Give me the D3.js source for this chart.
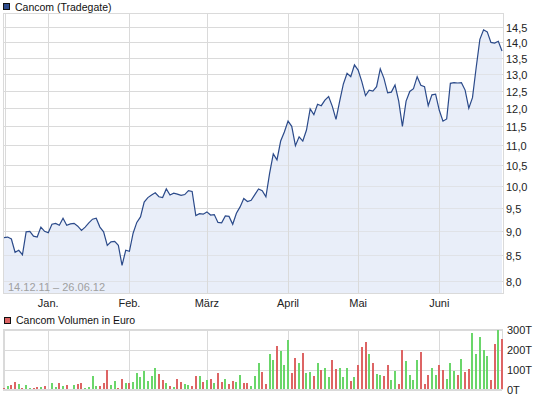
<!DOCTYPE html>
<html>
<head>
<meta charset="utf-8">
<script src="https://cdn.jsdelivr.net/npm/d3@7"></script>
<style>
  body { margin: 0; background: #fff; }
  svg { display: block; font-family: "Liberation Sans", Arial, sans-serif; }
</style>
</head>
<body>
<div id="chart"></div>
<script>
// Cancom (Tradegate) 14.12.11 - 26.06.12, Kurs + Volumen

// Schlusskurse pro Handelstag (Index 0 = 14.12.11)
const prices = [
  8.86, 8.87, 8.83, 8.56, 8.60, 8.51, 8.98, 8.99, 8.89, 8.87,
  9.08, 8.99, 8.96, 9.14, 9.16, 9.12, 9.27, 9.12, 9.15, 9.16,
  9.10, 9.01, 9.08, 9.17, 9.25, 9.27, 9.08, 8.98, 8.70, 8.77,
  8.78, 8.70, 8.30, 8.60, 8.58, 8.95, 9.18, 9.30, 9.63, 9.73,
  9.79, 9.84, 9.75, 9.73, 9.93, 9.79, 9.83, 9.81, 9.78, 9.80,
  9.89, 9.87, 9.33, 9.37, 9.36, 9.41, 9.34, 9.35, 9.18, 9.17,
  9.32, 9.31, 9.14, 9.38, 9.52, 9.71, 9.64, 9.67, 9.80, 9.93,
  9.89, 9.75, 10.30, 10.78, 10.63, 11.11, 11.35, 11.64, 11.50, 10.99,
  11.22, 11.11, 11.40, 11.98, 11.82, 12.11, 12.07, 12.23, 12.33, 12.05,
  11.69, 12.20, 12.70, 13.02, 12.92, 13.28, 13.12, 12.77, 12.36, 12.52,
  12.49, 12.62, 13.16, 12.87, 12.44, 12.46, 12.67, 12.20, 11.50, 12.20,
  12.48, 12.56, 12.92, 12.66, 12.62, 12.07, 12.38, 12.40, 11.94, 11.64,
  11.70, 12.72, 12.74, 12.73, 12.74, 12.52, 12.00, 12.30, 13.20, 14.10,
  14.42, 14.35, 14.00, 13.98, 14.04, 13.72
];

// Volumen in Tausend Euro
const volumes = [
  7, 17, 22, 38, 27, 7, 22, 7, 7, 12,
  12, 17, 0, 32, 12, 32, 17, 22, 0, 22,
  27, 32, 7, 12, 67, 17, 17, 32, 97, 22,
  42, 7, 52, 32, 32, 37, 82, 62, 92, 42,
  67, 107, 77, 47, 32, 17, 12, 52, 37, 27,
  22, 17, 67, 67, 37, 47, 52, 32, 82, 37,
  52, 27, 42, 37, 72, 32, 32, 17, 67, 132,
  87, 27, 177, 150, 217, 193, 122, 247, 83, 160,
  133, 183, 83, 88, 67, 133, 97, 108, 63, 147,
  102, 110, 63, 110, 43, 63, 122, 213, 237, 177,
  133, 77, 72, 67, 122, 47, 92, 30, 197, 142,
  72, 47, 147, 187, 27, 72, 110, 72, 122, 100,
  52, 133, 92, 72, 155, 88, 105, 283, 177, 263,
  200, 167, 50, 230, 297, 255
];

// g = Plus-Tag, r = Minus-Tag
const volDir = (
  "rgrrgrggrr" + "grgggrgrgg" + "rrggggrrrg" + "grrgrggggg" +
  "ggrrgrgrrg" + "grrgrgrgrr" + "grrggrrggg" + "rrggrgggrr" +
  "grggrgrggr" + "rgggrgrrrg" + "rggrrggrrg" + "gggrrrggrr" +
  "gggrgrrggg" + "ggrrgr"
).split("");

const monthLabels = ["Jan.", "Feb.", "März", "April", "Mai", "Juni"];
const monthStarts = [12, 34, 55, 77, 96, 118];

const priceTicks = [8.0, 8.5, 9.0, 9.5, 10.0, 10.5, 11.0, 11.5, 12.0, 12.5, 13.0, 13.5, 14.0, 14.5];
const volTicks = [0, 100, 200, 300];

const W = 545, H = 398;
const svg = d3.select("#chart").append("svg").attr("width", W).attr("height", H);

const gridCol = "#dadada";
const lineCol = "#2b4a8a";
const fillCol = "#e9eef9";
const upCol = "#6ad66a";
const downCol = "#dd6464";
const fmt = d3.format(".1f");

// Skalen
const plotL = 3, plotR = 503, plotT = 13, plotB = 293;
const x = d3.scaleLinear().domain([0, prices.length - 1]).range([4, 502]);
const y = d3.scaleLog().domain([7.78, 15]).range([plotB, plotT]);
const vy = d3.scaleLinear().domain([0, 300]).range([389.5, 329.5]);
const crisp = v => Math.round(v) + 0.5;

// ---- Kurs-Panel ----
const main = svg.append("g");

main.append("rect")
  .attr("x", plotL + 0.5).attr("y", plotT + 0.5)
  .attr("width", plotR - plotL).attr("height", plotB - plotT)
  .attr("fill", "#fff").attr("stroke", gridCol);

main.append("line")
  .attr("x1", 5.5).attr("x2", 5.5).attr("y1", plotT).attr("y2", plotB)
  .attr("stroke", gridCol);

main.selectAll("line.hgrid").data(priceTicks).join("line")
  .attr("class", "hgrid")
  .attr("x1", plotL).attr("x2", plotR)
  .attr("y1", d => crisp(y(d))).attr("y2", d => crisp(y(d)))
  .attr("stroke", gridCol);

const area = d3.area()
  .x((d, i) => x(i))
  .y0(plotB)
  .y1(d => y(d));

main.append("path")
  .datum(prices)
  .attr("d", area)
  .attr("fill", fillCol);

main.selectAll("line.vgrid").data(monthStarts).join("line")
  .attr("class", "vgrid")
  .attr("x1", d => crisp(x(d))).attr("x2", d => crisp(x(d)))
  .attr("y1", plotT).attr("y2", plotB)
  .attr("stroke", gridCol);

main.selectAll("line.hgrid2").data(priceTicks).join("line")
  .attr("class", "hgrid2")
  .attr("x1", plotL).attr("x2", plotR)
  .attr("y1", d => crisp(y(d))).attr("y2", d => crisp(y(d)))
  .attr("stroke", gridCol).attr("stroke-opacity", 0.6);

main.append("path")
  .datum(prices)
  .attr("d", d3.line().x((d, i) => x(i)).y(d => y(d)))
  .attr("fill", "none")
  .attr("stroke", lineCol)
  .attr("stroke-width", 1.2);

// Y-Achse rechts
main.selectAll("text.ytick").data(priceTicks).join("text")
  .attr("class", "ytick")
  .attr("x", 506).attr("y", d => y(d) + 5)
  .attr("font-size", 11).attr("fill", "#222")
  .text(d => fmt(d).replace(".", ","));

// Monate
main.selectAll("text.month").data(monthStarts).join("text")
  .attr("class", "month")
  .attr("x", d => x(d)).attr("y", 306.5)
  .attr("text-anchor", "middle")
  .attr("font-size", 11).attr("fill", "#222")
  .text((d, i) => monthLabels[i]);

main.append("text")
  .attr("x", 8).attr("y", 291)
  .attr("font-size", 11).attr("fill", "#a0a0a0")
  .text("14.12.11 \u2013 26.06.12");

// Legende
main.append("rect")
  .attr("x", 3.5).attr("y", 3.5).attr("width", 6).attr("height", 6)
  .attr("fill", "#2e4d8e").attr("stroke", "#111");
main.append("text")
  .attr("x", 15).attr("y", 10.5)
  .attr("font-size", 10.5).attr("fill", "#111")
  .text("Cancom (Tradegate)");

// ---- Volumen-Panel ----
const vol = svg.append("g");

vol.append("rect")
  .attr("x", plotL + 0.5).attr("y", 329.5)
  .attr("width", plotR - plotL - 1).attr("height", 60)
  .attr("fill", "#fff").attr("stroke", gridCol);

vol.append("line")
  .attr("x1", 4.5).attr("x2", 4.5).attr("y1", 329.5).attr("y2", 389.5)
  .attr("stroke", gridCol);

vol.selectAll("line.hgrid").data(volTicks).join("line")
  .attr("class", "hgrid")
  .attr("x1", plotL).attr("x2", plotR - 1)
  .attr("y1", d => crisp(vy(d))).attr("y2", d => crisp(vy(d)))
  .attr("stroke", gridCol);

vol.selectAll("line.vgrid").data(monthStarts).join("line")
  .attr("class", "vgrid")
  .attr("x1", d => crisp(x(d))).attr("x2", d => crisp(x(d)))
  .attr("y1", 329.5).attr("y2", 389.5)
  .attr("stroke", gridCol);

vol.selectAll("rect.bar").data(volumes).join("rect")
  .attr("class", "bar")
  .attr("x", (d, i) => Math.round(x(i) - 1))
  .attr("width", 2)
  .attr("y", d => Math.round(vy(d)))
  .attr("height", d => Math.max(0, 389 - Math.round(vy(d))))
  .attr("fill", (d, i) => volDir[i] === "g" ? upCol : downCol);

vol.selectAll("text.ytick").data(volTicks).join("text")
  .attr("class", "ytick")
  .attr("x", 507).attr("y", d => vy(d) + 4.5)
  .attr("font-size", 11).attr("fill", "#222")
  .text(d => d + "T");

vol.append("rect")
  .attr("x", 4.5).attr("y", 317.5).attr("width", 6).attr("height", 6)
  .attr("fill", downCol).attr("stroke", "#111");
vol.append("text")
  .attr("x", 16).attr("y", 324)
  .attr("font-size", 10.5).attr("fill", "#111")
  .text("Cancom Volumen in Euro");
</script>
</body>
</html>
